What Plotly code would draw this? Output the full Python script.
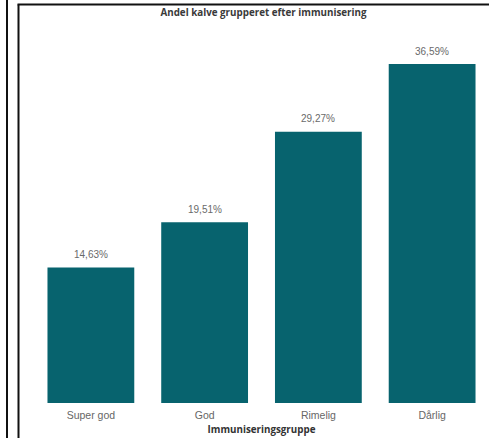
import plotly.graph_objects as go

categories = ["Super god", "God", "Rimelig", "Dårlig"]
values = [14.63, 19.51, 29.27, 36.59]
labels = ["14,63%", "19,51%", "29,27%", "36,59%"]

W, H = 489, 438
ml, mr, mt, mb = 34, 0, 20, 35

fig = go.Figure(go.Bar(
    x=categories, y=values,
    marker=dict(color="#07636e", line=dict(width=0)),
    hoverinfo="skip",
))

for c, v, t in zip(categories, values, labels):
    fig.add_annotation(x=c, y=v, text=t, showarrow=False, yanchor="middle", yshift=13,
                       font=dict(family="Liberation Sans, Arial", size=10, color="#6a6a6a"))

pw = W - ml - mr
ph = H - mt - mb
def px2x(p):
    return (p - ml) / pw
def py2y(p):
    return 1 - (p - mt) / ph

line = dict(color="#111111", width=2)
fig.update_layout(
    width=W, height=H,
    margin=dict(l=ml, r=mr, t=mt, b=mb),
    paper_bgcolor="white", plot_bgcolor="white",
    separators=",.",
    showlegend=False,
    bargap=0.237,
    title=dict(text="<b>Andel kalve grupperet efter immunisering</b>",
               x=263.5 / W, xanchor="center", xref="container",
               y=1 - 13 / H, yanchor="middle", yref="container",
               font=dict(family="Open Sans", size=9.8, color="#3a3a3a")),
    xaxis=dict(showgrid=False, showline=False, zeroline=False, ticks="",
               ticklabelstandoff=4,
               tickfont=dict(family="Liberation Sans, Arial", size=10.5, color="#666666"),
               title=dict(text="<b>Immuniseringsgruppe</b>", standoff=6,
                          font=dict(family="Open Sans", size=9.8, color="#333333"))),
    yaxis=dict(range=[0, 41.34], visible=False),
    shapes=[
        dict(type="line", xref="paper", yref="paper", x0=px2x(7), x1=px2x(7), y0=py2y(0), y1=py2y(438), line=line),
        dict(type="line", xref="paper", yref="paper", x0=px2x(18.5), x1=px2x(18.5), y0=py2y(4.5), y1=py2y(438), line=line),
        dict(type="line", xref="paper", yref="paper", x0=px2x(17.5), x1=px2x(489), y0=py2y(4.5), y1=py2y(4.5), line=line),
    ],
)

fig.write_html("out.html", config={"displayModeBar": False},
               post_script="document.body.style.margin='0';document.body.style.overflow='hidden';")
